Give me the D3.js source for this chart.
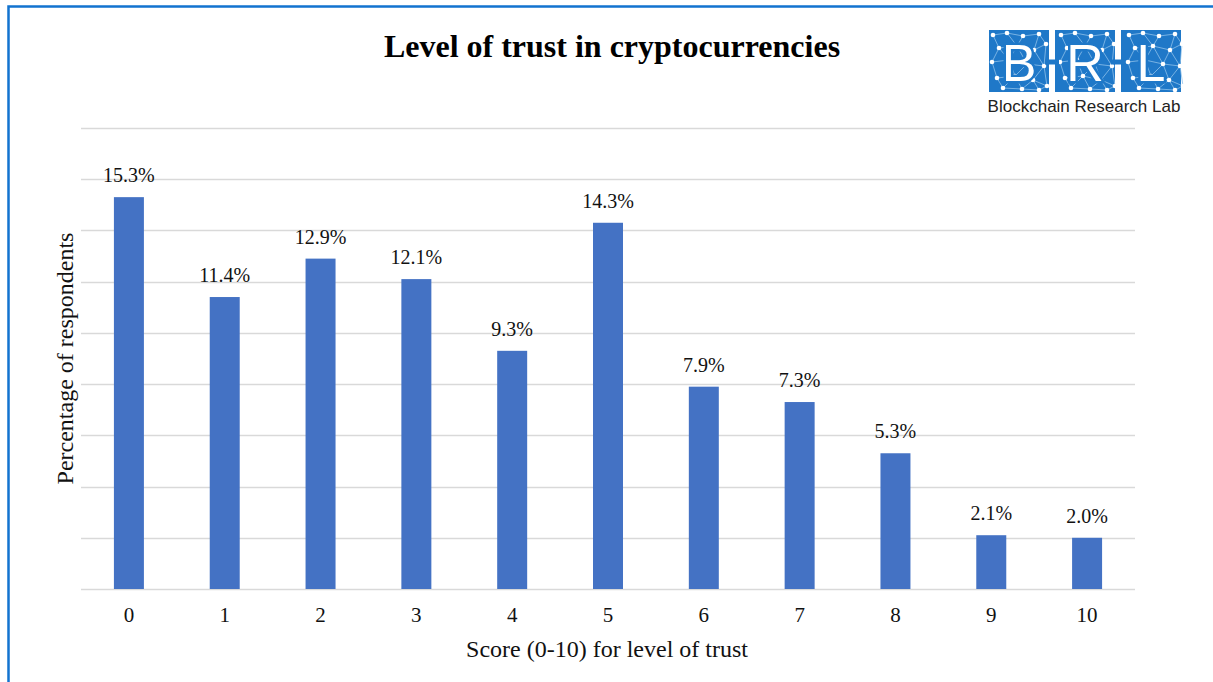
<!DOCTYPE html>
<html>
<head>
<meta charset="utf-8">
<script src="https://cdn.jsdelivr.net/npm/d3@7"></script>
<style>
  html, body { margin: 0; padding: 0; background: #fff; }
  svg { display: block; }
</style>
</head>
<body>
<svg id="chart" width="1213" height="682"></svg>
<script>
// Survey: share of respondents per trust score
const scores = ["0", "1", "2", "3", "4", "5", "6", "7", "8", "9", "10"];
const shares = [15.3, 11.4, 12.9, 12.1, 9.3, 14.3, 7.9, 7.3, 5.3, 2.1, 2.0];
const gridTicks = [0, 2, 4, 6, 8, 10, 12, 14, 16, 18];

const svg = d3.select("#chart");
const W = 1213, H = 682;
const serif = "'Liberation Serif', 'Times New Roman', serif";
const sans = "'Liberation Sans', Arial, sans-serif";

// frame
svg.append("rect").attr("width", W).attr("height", H).attr("fill", "#fff");
svg.append("path")
  .attr("d", `M8.5,${H} L8.5,6.5 L${W},6.5`)
  .attr("fill", "none").attr("stroke", "#1273cf").attr("stroke-width", 2.5);

const plot = { left: 81, right: 1135, top: 128, bottom: 589 };

const x = d3.scaleBand().domain(scores)
  .range([plot.left, plot.right]).paddingInner(0.687).paddingOuter(0.3435);
const y = d3.scaleLinear().domain([0, 18]).range([plot.bottom, plot.top]);

// gridlines
svg.append("g").selectAll("line").data(gridTicks).join("line")
  .attr("x1", plot.left).attr("x2", plot.right)
  .attr("y1", d => Math.round(y(d)) + 0.5).attr("y2", d => Math.round(y(d)) + 0.5)
  .attr("stroke", "#d9d9d9").attr("stroke-width", 1.5);

// bars
svg.append("g").selectAll("rect").data(shares).join("rect")
  .attr("x", (d, i) => x(scores[i]))
  .attr("y", d => y(d))
  .attr("width", x.bandwidth())
  .attr("height", d => y(0) - y(d))
  .attr("fill", "#4472c4");

// value labels
svg.append("g").selectAll("text").data(shares).join("text")
  .attr("x", (d, i) => x(scores[i]) + x.bandwidth() / 2)
  .attr("y", d => y(d) - 15)
  .attr("text-anchor", "middle")
  .attr("font-family", serif).attr("font-size", 20).attr("fill", "#111")
  .text(d => d.toFixed(1) + "%");

// x axis
const xAxis = svg.append("g")
  .attr("transform", `translate(0,${plot.bottom})`)
  .call(d3.axisBottom(x).tickSize(0).tickPadding(18));
xAxis.select(".domain").remove();
xAxis.selectAll("text")
  .attr("font-family", serif).attr("font-size", 21).attr("fill", "#111");

// axis titles
svg.append("text")
  .attr("x", (plot.left + plot.right) / 2 - 1).attr("y", 657)
  .attr("text-anchor", "middle")
  .attr("font-family", serif).attr("font-size", 24).attr("fill", "#111")
  .text("Score (0-10) for level of trust");

svg.append("text")
  .attr("transform", `translate(73,${(plot.top + plot.bottom) / 2}) rotate(-90)`)
  .attr("text-anchor", "middle")
  .attr("font-family", serif).attr("font-size", 24).attr("fill", "#111")
  .text("Percentage of respondents");

// title
svg.append("text")
  .attr("x", 612).attr("y", 57)
  .attr("text-anchor", "middle")
  .attr("font-family", serif).attr("font-size", 32).attr("font-weight", "bold")
  .attr("fill", "#000")
  .text("Level of trust in cryptocurrencies");

// logo: three network tiles with letters
const logo = svg.append("g").attr("transform", "translate(989,30)");
const tiles = [
  { x: 0, w: 60, letter: "B" },
  { x: 66, w: 60, letter: "R" },
  { x: 132, w: 60, letter: "L" }
];
const nodes = [
  [4, 5], [18, 3], [34, 6], [50, 4], [57, 14], [10, 18], [28, 16], [45, 20],
  [3, 32], [20, 30], [38, 34], [55, 36], [8, 48], [26, 46], [44, 50], [58, 56],
  [14, 58], [33, 59], [50, 60]
];
const links = [
  [0, 1], [1, 2], [2, 3], [3, 4], [0, 5], [1, 6], [2, 6], [3, 7], [4, 7], [5, 6], [6, 7],
  [5, 8], [5, 9], [6, 9], [6, 10], [7, 10], [7, 11], [4, 11], [8, 9], [9, 10], [10, 11],
  [8, 12], [9, 13], [10, 13], [10, 14], [11, 14], [11, 15], [12, 13], [13, 14], [14, 15],
  [12, 16], [13, 16], [13, 17], [14, 17], [14, 18], [15, 18], [16, 17], [17, 18]
];
tiles.forEach((t, k) => {
  const g = logo.append("g").attr("transform", `translate(${t.x},0)`);
  g.append("rect").attr("width", t.w).attr("height", 62).attr("fill", "#1f78c8");
  g.selectAll("line").data(links).join("line")
    .attr("x1", d => nodes[d[0]][0] + (k * 7) % 5).attr("y1", d => nodes[d[0]][1])
    .attr("x2", d => nodes[d[1]][0] + (k * 7) % 5).attr("y2", d => nodes[d[1]][1])
    .attr("stroke", "#8ec0ea").attr("stroke-width", 0.8);
  g.selectAll("circle").data(nodes).join("circle")
    .attr("cx", d => d[0] + (k * 7) % 5).attr("cy", d => d[1]).attr("r", 2.3)
    .attr("fill", "#fff");
  g.append("text")
    .attr("x", t.w / 2).attr("y", 51)
    .attr("text-anchor", "middle")
    .attr("font-family", sans).attr("font-size", 52)
    .attr("fill", "#1f78c8").attr("stroke", "#1f78c8").attr("stroke-width", 5)
    .text(t.letter);
  g.append("text")
    .attr("x", t.w / 2).attr("y", 51)
    .attr("text-anchor", "middle")
    .attr("font-family", sans).attr("font-size", 52)
    .attr("fill", "#fff")
    .text(t.letter);
});
// connecting dashes between tiles
[[56, 70], [122, 136]].forEach(([a, b]) => {
  logo.append("line").attr("x1", a).attr("x2", b).attr("y1", 32).attr("y2", 32)
    .attr("stroke", "#1f78c8").attr("stroke-width", 5);
});
svg.append("text")
  .attr("x", 1084).attr("y", 112)
  .attr("text-anchor", "middle")
  .attr("font-family", sans).attr("font-size", 17)
  .attr("fill", "#222")
  .text("Blockchain Research Lab");
</script>
</body>
</html>
